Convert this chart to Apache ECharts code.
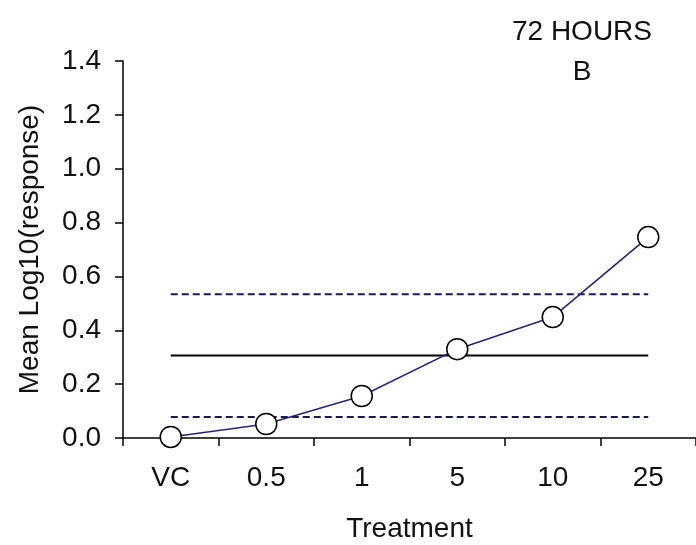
<!DOCTYPE html>
<html>
<head>
<meta charset="utf-8">
<script src="https://cdn.jsdelivr.net/npm/echarts@6/dist/echarts.min.js"></script>
<style>
html,body{margin:0;padding:0;background:#fff;}
#c{width:696px;height:545px;}
</style>
</head>
<body>
<div id="c"></div>
<script>
var categories = ['VC', '0.5', '1', '5', '10', '25'];
var meanResponse = [0.004, 0.052, 0.156, 0.33, 0.449, 0.746];
var refCenter = 0.306;
var refUpper = 0.534;
var refLower = 0.078;
var titleLines = ['72 HOURS', 'B'];
var yMin = 0, yMax = 1.4, yStep = 0.2;

var FONT = 'Liberation Sans';
var FS = 28;
var first = categories[0], last = categories[categories.length - 1];
function refSeries(v, type, color) {
  return {
    type: 'line', data: [[first, v], [last, v]], symbol: 'none', silent: true, z: 1,
    lineStyle: { color: color, width: 2, type: type }
  };
}

var chart = echarts.init(document.getElementById('c'), null, { renderer: 'canvas' });
chart.setOption({
  backgroundColor: '#ffffff',
  animation: false,
  title: {
    text: titleLines.join('\n'),
    left: 577, top: 7, textAlign: 'center',
    textStyle: { fontFamily: FONT, fontSize: FS, fontWeight: 'normal', color: '#111', lineHeight: 40 }
  },
  grid: { left: 123, right: 0, top: 61, bottom: 107, containLabel: false, outerBoundsMode: 'none' },
  xAxis: {
    type: 'category', data: categories, boundaryGap: true,
    name: 'Treatment', nameLocation: 'middle', nameGap: 77,
    nameTextStyle: { fontFamily: FONT, fontSize: FS, color: '#111' },
    axisLine: { lineStyle: { color: '#000', width: 1.5 } },
    axisTick: { show: true, inside: false, length: 8, alignWithLabel: false, lineStyle: { color: '#000', width: 1.5 } },
    axisLabel: { fontFamily: FONT, fontSize: FS, color: '#111', margin: 26 },
    splitLine: { show: false }
  },
  yAxis: {
    type: 'value', min: yMin, max: yMax, interval: yStep,
    name: 'Mean Log10(response)', nameLocation: 'middle', nameGap: 79, nameRotate: 90,
    nameTextStyle: { fontFamily: FONT, fontSize: FS, color: '#111' },
    axisLine: { show: true, lineStyle: { color: '#000', width: 1.5 } },
    axisTick: { show: true, length: 8, lineStyle: { color: '#000', width: 1.5 } },
    axisLabel: { fontFamily: FONT, fontSize: FS, color: '#111', margin: 22,
      formatter: function (v) { return v.toFixed(1); } },
    splitLine: { show: false }
  },
  series: [
    refSeries(refUpper, [7, 4], '#1a1a50'),
    refSeries(refCenter, 'solid', '#000'),
    refSeries(refLower, [7, 4], '#1a1a50'),
    {
      type: 'line', data: meanResponse, z: 5,
      symbol: 'circle', symbolSize: 21,
      lineStyle: { color: '#26266e', width: 1.6 },
      itemStyle: { color: '#ffffff', borderColor: '#000', borderWidth: 1.5 }
    }
  ]
});
</script>
</body>
</html>
